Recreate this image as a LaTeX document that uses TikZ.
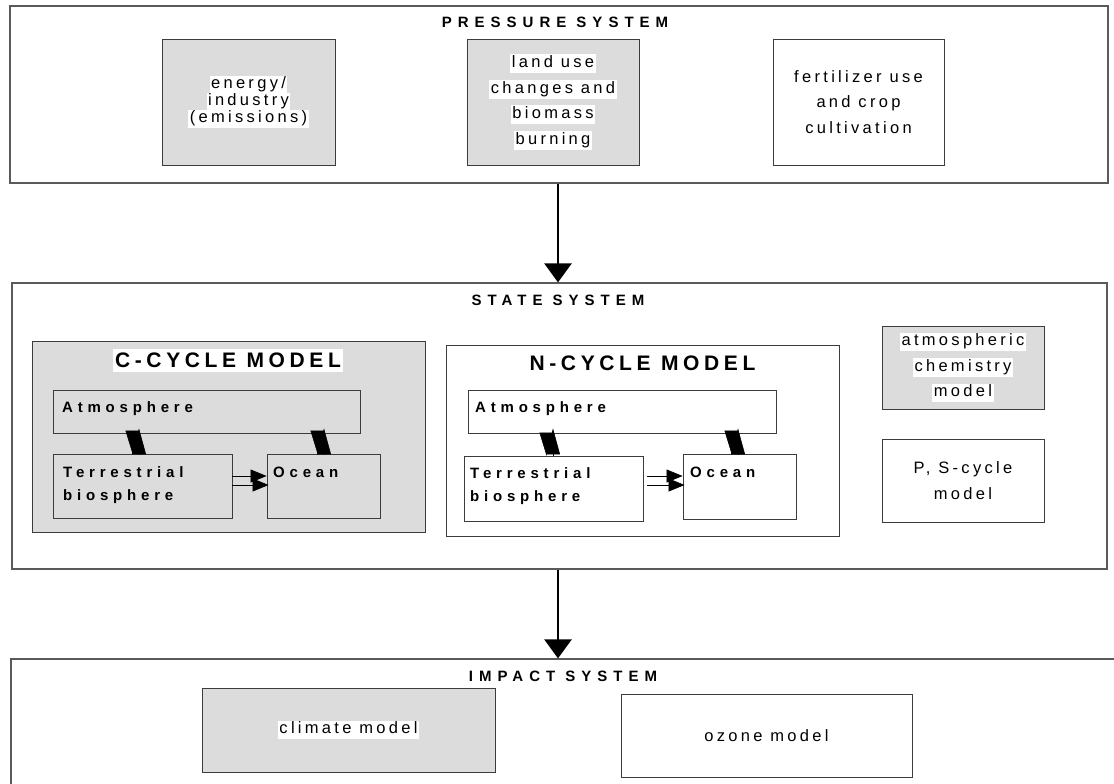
\documentclass[tikz,border=0pt]{standalone}
\usepackage{fontspec}
\setmainfont{Liberation Sans}
\newfontfamily\bodyfont[LetterSpace=20]{Liberation Sans}
\newfontfamily\lblfont[LetterSpace=32]{Liberation Sans}
\newfontfamily\sysfont[LetterSpace=40]{Liberation Sans}
\newfontfamily\cycfont[LetterSpace=22]{Liberation Sans}
\usetikzlibrary{arrows.meta}
\definecolor{shade}{RGB}{220,220,220}
\definecolor{edge}{RGB}{60,60,60}
\definecolor{frame}{RGB}{90,90,90}
% white highlight behind a line of text
\newcommand\whl[1]{{\setlength{\fboxsep}{1.5pt}\colorbox{white}{\rule[-4pt]{0pt}{15pt}#1}}}
\newcommand\whlt[1]{{\setlength{\fboxsep}{2pt}\colorbox{white}{\rule[-3pt]{0pt}{19pt}#1}}}
\tikzset{
  sysbox/.style={draw=frame, line width=1.2pt, inner sep=0pt},
  shbox/.style={draw=edge, line width=0.9pt, fill=shade, inner sep=0pt, align=center},
  wbox/.style={draw=edge, line width=0.9pt, fill=white, inner sep=0pt, align=center},
  body/.style={font=\bodyfont\fontsize{16.5}{25.5}\selectfont},
  bodytight/.style={font=\bodyfont\fontsize{16.5}{17}\selectfont},
  systitle/.style={font=\sysfont\bfseries\fontsize{15}{18}\selectfont, inner sep=0pt, anchor=base},
  cyctitle/.style={font=\cycfont\bfseries\fontsize{21}{24}\selectfont, inner sep=0pt, anchor=base},
  lbl/.style={font=\lblfont\bfseries\fontsize{15}{23}\selectfont, inner sep=0pt, align=left, anchor=base west},
  bigarrow/.style={line width=2.6pt, -{Triangle[length=19pt,width=27pt]}},
  fluxdn/.style={line width=0.6pt, -{Triangle[length=23pt,width=14pt]}},
  fluxup/.style={line width=0.6pt, shorten >=-5pt, -{Triangle[length=26pt,width=14pt]}},
  hflux/.style={line width=0.6pt, -{Triangle[length=16pt,width=13pt]}},
}
\begin{document}
\lineskiplimit=-10pt
\begin{tikzpicture}[x=1pt,y=-1pt]
\clip (0,0) rectangle (1114,784);
\fill[white] (0,0) rectangle (1114,784);

% ---------- pressure system ----------
\node[sysbox, minimum width=1098pt, minimum height=177pt] (pressure) at (559,94.5) {};
\node[systitle] (ptitle) at (555,28) {PRESSURE SYSTEM};
\node[shbox, bodytight, minimum width=173pt, minimum height=126pt] (energy) at (248.5,102)
  {\whl{energy/}\\\whl{industry}\\\whl{(emissions)}};
\node[shbox, body, minimum width=172pt, minimum height=126pt] (landuse) at (553,102)
  {\whl{land use}\\\whl{changes and}\\\whl{biomass}\\\whl{burning}};
\node[wbox, body, minimum width=171pt, minimum height=126pt] (fert) at (858.5,102)
  {fertilizer use\\and crop\\cultivation};

% ---------- state system ----------
\node[sysbox, minimum width=1095pt, minimum height=286pt] (state) at (559.5,426) {};
\node[systitle] (stitle) at (558,305) {STATE SYSTEM};

% C-cycle model
\node[shbox, minimum width=393pt, minimum height=191pt] (cbox) at (228.5,436.5) {};
\node[cyctitle] (ctitle) at (228,367) {\whlt{C-CYCLE MODEL}};
\node[shbox, minimum width=307pt, minimum height=43pt] (catm) at (206.5,411.5) {};
\node[shbox, minimum width=179pt, minimum height=64pt] (cterr) at (142.5,486) {};
\node[shbox, minimum width=113pt, minimum height=64pt] (cocean) at (323.5,486) {};
\node[lbl] (catmT) at (62,412) {Atmosphere};
\node[lbl] (cterrT) at (63,500) {Terrestrial\\biosphere};
\node[lbl] (coceanT) at (273,477) {Ocean};

% N-cycle model
\node[wbox, minimum width=393pt, minimum height=191pt] (nbox) at (642.5,440.5) {};
\node[cyctitle] (ntitle) at (642.5,370) {N-CYCLE MODEL};
\node[wbox, minimum width=308pt, minimum height=43pt] (natm) at (622,411.5) {};
\node[wbox, minimum width=179pt, minimum height=65pt] (nterr) at (553.5,488.5) {};
\node[wbox, minimum width=113pt, minimum height=65pt] (nocean) at (739.5,486.5) {};
\node[lbl] (natmT) at (475,412) {Atmosphere};
\node[lbl] (nterrT) at (470,501) {Terrestrial\\biosphere};
\node[lbl] (noceanT) at (690,477) {Ocean};

% other models
\node[shbox, body, minimum width=162pt, minimum height=83pt] (chem) at (963,367.5)
  {\whl{atmospheric}\\\whl{chemistry}\\\whl{model}};
\node[wbox, body, minimum width=162pt, minimum height=83pt] (ps) at (963,480.5)
  {P, S-cycle\\model};

% exchange fluxes: paired down/up arrows and paired horizontal arrows
\coordinate (cl1) at (132.5,0);  \coordinate (cl2) at (139,0);
\coordinate (cr1) at (317.5,0);  \coordinate (cr2) at (324,0);
\coordinate (nl1) at (546.5,0);  \coordinate (nl2) at (553,0);
\coordinate (nr1) at (731.5,0);  \coordinate (nr2) at (738,0);
\coordinate (hy1) at (0,476);    \coordinate (hy2) at (0,485);

\draw[fluxdn] (catm.south -| cl1) -- (cterr.north -| cl1);
\draw[fluxup] (cterr.north -| cl2) -- (catm.south -| cl2);
\draw[fluxdn] (catm.south -| cr1) -- (cocean.north -| cr1);
\draw[fluxup] (cocean.north -| cr2) -- (catm.south -| cr2);
\draw[hflux] (cterr.east |- hy1) -- (cocean.west |- hy1);
\draw[hflux, shorten >=-2pt] (cterr.east |- hy2) -- (cocean.west |- hy2);

\draw[fluxdn] (natm.south -| nl1) -- (nterr.north -| nl1);
\draw[fluxup] (nterr.north -| nl2) -- (natm.south -| nl2);
\draw[fluxdn] (natm.south -| nr1) -- (nocean.north -| nr1);
\draw[fluxup] (nocean.north -| nr2) -- (natm.south -| nr2);
\draw[hflux, shorten <=4pt] (nterr.east |- hy1) -- (nocean.west |- hy1);
\draw[hflux, shorten <=4pt, shorten >=-2pt] (nterr.east |- hy2) -- (nocean.west |- hy2);

% ---------- impact system ----------
\node[sysbox, minimum width=1119pt, minimum height=141pt] (impact) at (570.5,729.5) {};
\node[systitle] (ititle) at (563,681) {IMPACT SYSTEM};
\node[shbox, body, minimum width=293pt, minimum height=84pt] (climate) at (348.5,730)
  {\whl{climate model}};
\node[wbox, body, minimum width=291pt, minimum height=83pt] (ozone) at (766.5,735.5)
  {ozone model};

% ---------- links between systems ----------
\coordinate (axis) at (558,0);
\draw[bigarrow] (pressure.south -| axis) -- (state.north -| axis);
\draw[bigarrow] (state.south -| axis) -- (impact.north -| axis);
\end{tikzpicture}
\end{document}
